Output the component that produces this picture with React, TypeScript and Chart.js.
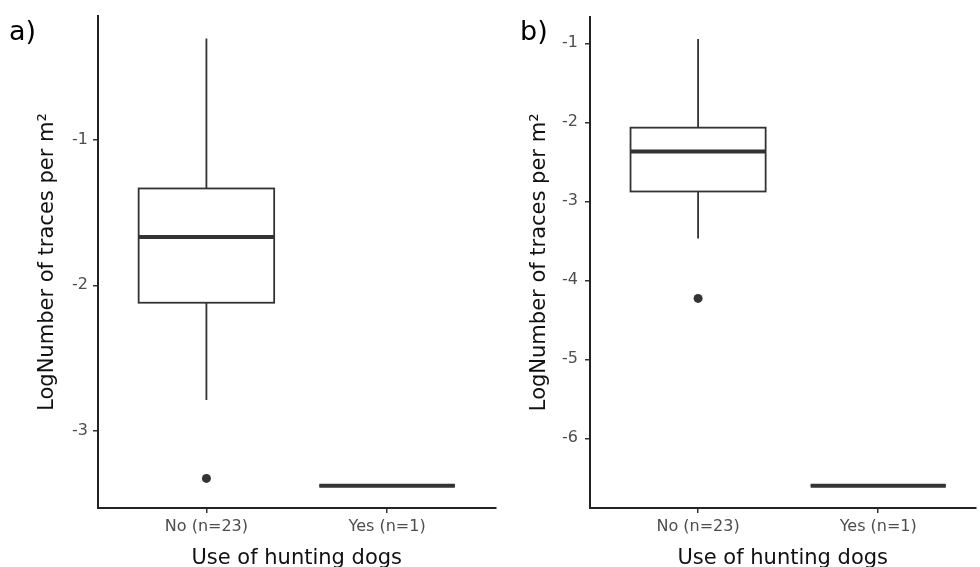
import React, { useEffect, useRef } from "react";
import { Chart, registerables } from "chart.js";

Chart.register(...registerables);

// ---- data ----
const categories = ["No (n=23)", "Yes (n=1)"];
const xTitle = "Use of hunting dogs";
const yTitle = "LogNumber of traces per m²";

// panel a
const aWhiskerLow = [-2.79, -3.38];
const aQ1 = [-2.12, -3.38];
const aMedian = [-1.667, -3.38];
const aQ3 = [-1.333, -3.38];
const aWhiskerHigh = [-0.3, -3.38];
const aOutlierCategory = [0];
const aOutlierValue = [-3.33];
const aTicks = [-1, -2, -3];
const aRange = [-3.534, -0.145];

// panel b
const bWhiskerLow = [-3.47, -6.6];
const bQ1 = [-2.876, -6.6];
const bMedian = [-2.37, -6.6];
const bQ3 = [-2.068, -6.6];
const bWhiskerHigh = [-0.945, -6.6];
const bOutlierCategory = [0];
const bOutlierValue = [-4.23];
const bTicks = [-1, -2, -3, -4, -5, -6];
const bRange = [-6.883, -0.662];

const FONT = "'DejaVu Sans', 'Liberation Sans', sans-serif";

const boxPlugin = {
  id: "boxes",
  beforeDatasetsDraw(chart: any, _args: any, opts: any) {
    const { ctx } = chart;
    const x = chart.scales.x;
    const y = chart.scales.y;
    const st = opts.stats;
    if (!st) return;
    ctx.save();
    ctx.strokeStyle = "#333333";
    ctx.lineCap = "butt";
    for (let i = 0; i < st.median.length; i++) {
      const cx = x.getPixelForValue(i);
      const l = x.getPixelForValue(i - 0.375);
      const r = x.getPixelForValue(i + 0.375);
      const yLo = y.getPixelForValue(st.lo[i]);
      const yQ1 = y.getPixelForValue(st.q1[i]);
      const yMed = y.getPixelForValue(st.median[i]);
      const yQ3 = y.getPixelForValue(st.q3[i]);
      const yHi = y.getPixelForValue(st.hi[i]);
      ctx.lineWidth = 1.8;
      ctx.beginPath();
      ctx.moveTo(cx, yHi);
      ctx.lineTo(cx, yQ3);
      ctx.moveTo(cx, yQ1);
      ctx.lineTo(cx, yLo);
      ctx.stroke();
      ctx.fillStyle = "#ffffff";
      ctx.fillRect(l, yQ3, r - l, yQ1 - yQ3);
      ctx.strokeRect(l, yQ3, r - l, yQ1 - yQ3);
      ctx.lineWidth = 4;
      ctx.beginPath();
      ctx.moveTo(l, yMed);
      ctx.lineTo(r, yMed);
      ctx.stroke();
    }
    ctx.restore();
  },
};

type Panel = {
  lo: number[];
  q1: number[];
  median: number[];
  q3: number[];
  hi: number[];
  outCat: number[];
  outVal: number[];
  ticks: number[];
  range: number[];
  xMax: number;
  yWidth: number;
  padRight: number;
  tickPad: number;
  titlePad: number;
};

function makeConfig(p: Panel): any {
  const tickFont = { family: FONT, size: 16 };
  const titleFont = { family: FONT, size: 21 };
  return {
    type: "scatter",
    data: {
      datasets: [
        {
          data: p.outCat.map((c, i) => ({ x: c, y: p.outVal[i] })),
          pointRadius: 4.5,
          pointHoverRadius: 4.5,
          pointBackgroundColor: "#333333",
          pointBorderWidth: 0,
        },
      ],
    },
    plugins: [boxPlugin],
    options: {
      animation: false,
      responsive: false,
      maintainAspectRatio: false,
      events: [],
      layout: { padding: { top: 16, right: p.padRight, bottom: 0, left: 0 } },
      plugins: {
        legend: { display: false },
        tooltip: { enabled: false },
        boxes: {
          stats: { lo: p.lo, q1: p.q1, median: p.median, q3: p.q3, hi: p.hi },
        },
      },
      scales: {
        x: {
          type: "linear",
          min: -0.6,
          max: p.xMax,
          afterBuildTicks: (s: any) => {
            s.ticks = categories.map((_, i) => ({ value: i }));
          },
          afterFit: (s: any) => {
            s.height = 59;
          },
          ticks: {
            callback: (v: any) => categories[v],
            font: tickFont,
            color: "#4d4d4d",
            padding: 4,
            maxRotation: 0,
            autoSkip: false,
          },
          grid: {
            drawOnChartArea: false,
            tickLength: 5,
            color: "#333333",
            lineWidth: 1.5,
          },
          border: { color: "#222222", width: 2 },
          title: {
            display: true,
            text: xTitle,
            font: titleFont,
            color: "#111111",
            padding: { top: 0, bottom: -4 },
          },
        },
        y: {
          type: "linear",
          min: p.range[0],
          max: p.range[1],
          afterBuildTicks: (s: any) => {
            s.ticks = p.ticks.map((v) => ({ value: v }));
          },
          afterFit: (s: any) => {
            s.width = p.yWidth;
          },
          ticks: {
            font: tickFont,
            color: "#4d4d4d",
            padding: p.tickPad,
            callback: (v: any) => String(v),
          },
          grid: {
            drawOnChartArea: false,
            tickLength: 5,
            color: "#333333",
            lineWidth: 1.5,
          },
          border: { color: "#222222", width: 2 },
          title: {
            display: true,
            text: yTitle,
            font: titleFont,
            color: "#111111",
            padding: { top: p.titlePad, bottom: 0 },
          },
        },
      },
    },
  };
}

const panelA: Panel = {
  lo: aWhiskerLow,
  q1: aQ1,
  median: aMedian,
  q3: aQ3,
  hi: aWhiskerHigh,
  outCat: aOutlierCategory,
  outVal: aOutlierValue,
  ticks: aTicks,
  range: aRange,
  xMax: 1.6,
  yWidth: 98,
  padRight: -4,
  tickPad: 5,
  titlePad: 35,
};

const panelB: Panel = {
  lo: bWhiskerLow,
  q1: bQ1,
  median: bMedian,
  q3: bQ3,
  hi: bWhiskerHigh,
  outCat: bOutlierCategory,
  outVal: bOutlierValue,
  ticks: bTicks,
  range: bRange,
  xMax: 1.54,
  yWidth: 90,
  padRight: -5,
  tickPad: 7,
  titlePad: 27,
};

function PanelChart({ panel, left, width }: { panel: Panel; left: number; width: number }) {
  const ref = useRef<HTMLCanvasElement | null>(null);
  useEffect(() => {
    if (!ref.current) return;
    const chart = new Chart(ref.current, makeConfig(panel));
    return () => chart.destroy();
  }, [panel]);
  return (
    <canvas
      ref={ref}
      width={width}
      height={567}
      style={{ position: "absolute", left, top: 0, width, height: 567 }}
    />
  );
}

const labelStyle: React.CSSProperties = {
  position: "absolute",
  top: 17,
  fontFamily: FONT,
  fontSize: 27,
  lineHeight: "27px",
  color: "#000",
  margin: 0,
};

export default function App() {
  return (
    <div
      style={{
        position: "absolute",
        left: 0,
        top: 0,
        width: 980,
        height: 567,
        overflow: "hidden",
        background: "#ffffff",
      }}
    >
      <PanelChart panel={panelA} left={0} width={500} />
      <PanelChart panel={panelB} left={500} width={480} />
      <div style={{ ...labelStyle, left: 9 }}>a)</div>
      <div style={{ ...labelStyle, left: 520 }}>b)</div>
    </div>
  );
}
